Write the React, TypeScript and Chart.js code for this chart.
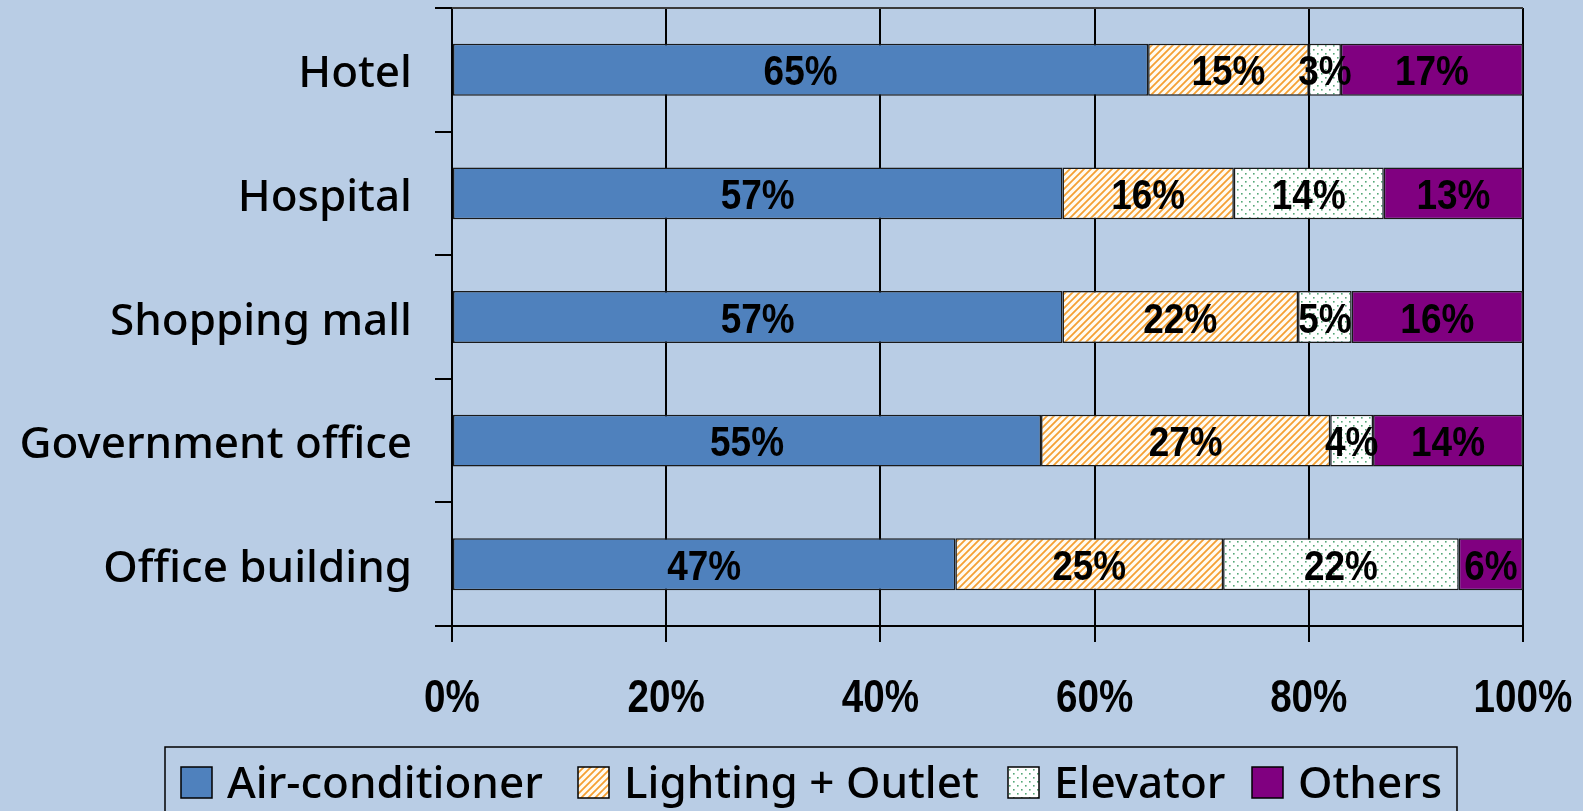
import React, { useEffect, useRef } from "react";
import { Chart, registerables } from "chart.js";

Chart.register(...registerables);

const categories = ["Hotel", "Hospital", "Shopping mall", "Government office", "Office building"];
const seriesNames = ["Air-conditioner", "Lighting + Outlet", "Elevator", "Others"];
const airConditioner = [65, 57, 57, 55, 47];
const lightingOutlet = [15, 16, 22, 27, 25];
const elevator = [3, 14, 5, 4, 22];
const others = [17, 13, 16, 14, 6];
const xTicks = [0, 20, 40, 60, 80, 100];

const BG = "#B9CDE5";
const NUM_FONT = "'Liberation Sans', Arial, sans-serif";
const LABEL_FONT = "'Noto Sans', sans-serif";

function makeStripePattern(): CanvasPattern | string {
  const s = 7;
  const c = document.createElement("canvas");
  c.width = s;
  c.height = s;
  const g = c.getContext("2d");
  if (!g) return "#F7A440";
  g.fillStyle = "#FFFBF2";
  g.fillRect(0, 0, s, s);
  g.strokeStyle = "#F5A033";
  g.lineWidth = 1.8;
  g.beginPath();
  g.moveTo(0, s);
  g.lineTo(s, 0);
  g.moveTo(-1, 1);
  g.lineTo(1, -1);
  g.moveTo(s - 1, s + 1);
  g.lineTo(s + 1, s - 1);
  g.stroke();
  const p = g.createPattern(c, "repeat");
  return p || "#F7A440";
}

function makeDotPattern(): CanvasPattern | string {
  const s = 8;
  const c = document.createElement("canvas");
  c.width = s;
  c.height = s;
  const g = c.getContext("2d");
  if (!g) return "#FFFFFF";
  g.fillStyle = "#FFFFFF";
  g.fillRect(0, 0, s, s);
  g.fillStyle = "#55A878";
  g.fillRect(1, 1, 1.6, 1.6);
  g.fillRect(5, 5, 1.6, 1.6);
  const p = g.createPattern(c, "repeat");
  return p || "#FFFFFF";
}

function drawCondensed(ctx: CanvasRenderingContext2D, text: string, x: number, y: number, sx: number) {
  ctx.save();
  ctx.translate(x, y);
  ctx.scale(sx, 1);
  ctx.fillText(text, 0, 0);
  ctx.restore();
}

const dataLabelPlugin = {
  id: "dataLabels",
  afterDatasetsDraw(chart: any) {
    const ctx = chart.ctx;
    ctx.save();
    ctx.font = `bold 42px ${NUM_FONT}`;
    ctx.fillStyle = "#000000";
    ctx.textAlign = "center";
    ctx.textBaseline = "alphabetic";
    chart.data.datasets.forEach((ds: any, di: number) => {
      const meta = chart.getDatasetMeta(di);
      meta.data.forEach((bar: any, i: number) => {
        const v = ds.data[i];
        const cx = (bar.x + bar.base) / 2;
        drawCondensed(ctx, `${v}%`, cx, bar.y + 15.5, 0.88);
      });
    });
    ctx.restore();
  },
};

const xLabelPlugin = {
  id: "xLabels",
  afterDraw(chart: any) {
    const ctx = chart.ctx;
    const xs = chart.scales.x;
    ctx.save();
    ctx.font = `bold 46px ${NUM_FONT}`;
    ctx.fillStyle = "#000000";
    ctx.textAlign = "center";
    ctx.textBaseline = "alphabetic";
    xTicks.forEach((v) => {
      drawCondensed(ctx, `${v}%`, xs.getPixelForValue(v), 712, 0.84);
    });
    ctx.restore();
  },
};

const framePlugin = {
  id: "frame",
  afterDraw(chart: any) {
    const ctx = chart.ctx;
    const a = chart.chartArea;
    ctx.save();
    ctx.strokeStyle = "#3a3a3a";
    ctx.lineWidth = 2;
    ctx.beginPath();
    ctx.moveTo(a.left, a.top);
    ctx.lineTo(a.right, a.top);
    ctx.stroke();
    ctx.restore();
  },
};

const legendPlugin = {
  id: "customLegend",
  afterDraw(chart: any) {
    const ctx = chart.ctx;
    ctx.save();
    const boxLeft = 165;
    const boxTop = 747;
    const boxRight = 1457;
    ctx.strokeStyle = "#000000";
    ctx.lineWidth = 1.5;
    ctx.beginPath();
    ctx.moveTo(boxLeft, chart.height + 2);
    ctx.lineTo(boxLeft, boxTop);
    ctx.lineTo(boxRight, boxTop);
    ctx.lineTo(boxRight, chart.height + 2);
    ctx.stroke();
    ctx.font = `500 44px ${LABEL_FONT}`;
    ctx.textBaseline = "alphabetic";
    ctx.textAlign = "left";
    const swatchStarts = [181, 578, 1008, 1252];
    const sw = 31;
    const sy = 767;
    chart.data.datasets.forEach((ds: any, i: number) => {
      const x = swatchStarts[i];
      ctx.fillStyle = ds.backgroundColor;
      ctx.fillRect(x, sy, sw, sw);
      ctx.strokeStyle = "#000000";
      ctx.lineWidth = 1.5;
      ctx.strokeRect(x, sy, sw, sw);
      ctx.fillStyle = "#000000";
      ctx.fillText(ds.label, x + sw + 15, 798);
    });
    ctx.restore();
  },
};

export default function App() {
  const canvasRef = useRef<HTMLCanvasElement | null>(null);

  useEffect(() => {
    document.body.style.margin = "0";
    document.body.style.background = BG;
    const canvas = canvasRef.current;
    if (!canvas) return;
    const stripes = makeStripePattern();
    const dots = makeDotPattern();
    const values = [airConditioner, lightingOutlet, elevator, others];
    const fills: any[] = ["#4F81BD", stripes, dots, "#800080"];
    const chart = new Chart(canvas, {
      type: "bar",
      data: {
        labels: categories,
        datasets: seriesNames.map((name, i) => ({
          label: name,
          data: values[i],
          backgroundColor: fills[i],
          borderColor: "#1a1a1a",
          borderWidth: 1.5,
          borderSkipped: false,
          barPercentage: 0.42,
          categoryPercentage: 1,
        })),
      },
      options: {
        indexAxis: "y",
        responsive: false,
        animation: false,
        layout: { padding: { left: 0, top: 8, right: 60, bottom: 0 } },
        plugins: {
          legend: { display: false },
          tooltip: { enabled: false },
        },
        scales: {
          x: {
            stacked: true,
            min: 0,
            max: 100,
            afterBuildTicks: (scale: any) => {
              scale.ticks = xTicks.map((v) => ({ value: v }));
            },
            afterFit: (scale: any) => {
              scale.height = 185;
              scale.paddingLeft = 0;
              scale.paddingRight = 0;
            },
            ticks: {
              display: false,
            },
            grid: {
              color: "#000000",
              lineWidth: 2,
              drawTicks: true,
              tickLength: 16,
            },
            border: { display: true, color: "#000000", width: 2 },
          },
          y: {
            stacked: true,
            offset: true,
            afterFit: (scale: any) => {
              scale.width = 452;
              scale.paddingTop = 0;
              scale.paddingBottom = 0;
            },
            ticks: {
              color: "#000000",
              font: { family: LABEL_FONT, size: 44, weight: "500" },
              padding: 23,
              labelOffset: 5,
            },
            grid: {
              offset: true,
              drawOnChartArea: false,
              drawTicks: true,
              tickLength: 17,
              color: "#000000",
              lineWidth: 2,
            },
            border: { display: true, color: "#000000", width: 2 },
          },
        },
      },
      plugins: [dataLabelPlugin, xLabelPlugin, framePlugin, legendPlugin],
    });
    return () => chart.destroy();
  }, []);

  return (
    <div style={{ position: "absolute", left: 0, top: 0, width: 1583, height: 811, background: BG }}>
      <canvas ref={canvasRef} width={1583} height={811} style={{ display: "block" }} />
    </div>
  );
}
